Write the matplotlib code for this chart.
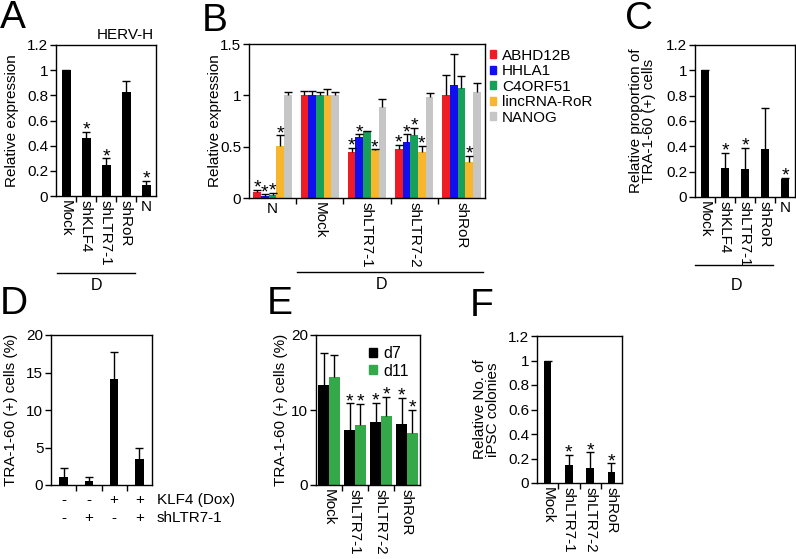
import numpy as np
import matplotlib.pyplot as plt
from matplotlib.patches import Patch
from matplotlib.ticker import FormatStrFormatter

plt.rcParams['font.family'] = ['Liberation Sans', 'DejaVu Sans']
plt.rcParams['font.size'] = 11
plt.rcParams['axes.linewidth'] = 1.0

# Panel A: HERV-H expression
a_labels = ['Mock', 'shKLF4', 'shLTR7-1', 'shRoR', 'N']
a_vals = [1.0, 0.46, 0.25, 0.83, 0.09]
a_errs = [0.0, 0.05, 0.05, 0.08, 0.03]
a_stars = [0, 1, 1, 0, 1]

# Panel B: gene expression per group
b_groups = ['N', 'Mock', 'shLTR7-1', 'shLTR7-2', 'shRoR']
b_genes = ['ABHD12B', 'HHLA1', 'C4ORF51', 'lincRNA-RoR', 'NANOG']
b_colors = ['#ee1c25', '#1010ee', '#16a05a', '#f7b62b', '#c6c6c6']
b_vals = [[0.06, 1.00, 0.45, 0.48, 1.00],
          [0.02, 1.00, 0.59, 0.55, 1.10],
          [0.03, 1.00, 0.65, 0.61, 1.07],
          [0.51, 1.00, 0.47, 0.45, 0.35],
          [1.00, 1.00, 0.89, 0.98, 1.03]]
b_errs = [[0.02, 0.04, 0.04, 0.04, 0.20],
          [0.015, 0.04, 0.03, 0.07, 0.30],
          [0.02, 0.03, 0.005, 0.07, 0.12],
          [0.10, 0.06, 0.005, 0.06, 0.06],
          [0.03, 0.03, 0.07, 0.04, 0.09]]
b_stars = [[1, 0, 1, 1, 0],
           [1, 0, 1, 1, 0],
           [1, 0, 0, 1, 0],
           [1, 0, 1, 1, 1],
           [0, 0, 0, 0, 0]]

# Panel C: relative proportion of TRA-1-60 (+) cells
c_labels = ['Mock', 'shKLF4', 'shLTR7-1', 'shRoR', 'N']
c_vals = [1.0, 0.23, 0.22, 0.38, 0.14]
c_errs = [0.0, 0.12, 0.17, 0.32, 0.01]
c_stars = [0, 1, 1, 0, 1]

# Panel D: TRA-1-60 (+) cells (%)
d_vals = [1.1, 0.6, 14.2, 3.5]
d_errs = [1.2, 0.5, 3.5, 1.4]
d_klf4 = ['-', '-', '+', '+']
d_shltr = ['-', '+', '-', '+']

# Panel E: d7 / d11
e_labels = ['Mock', 'shLTR7-1', 'shLTR7-2', 'shRoR']
e_d7 = [13.3, 7.3, 8.4, 8.2]
e_d7_err = [4.3, 3.6, 2.6, 3.4]
e_d11 = [14.4, 8.0, 9.2, 6.9]
e_d11_err = [2.9, 2.8, 2.6, 3.1]
e_stars = [0, 1, 1, 1]

# Panel F: iPSC colonies
f_labels = ['Mock', 'shLTR7-1', 'shLTR7-2', 'shRoR']
f_vals = [1.0, 0.15, 0.12, 0.09]
f_errs = [0.0, 0.08, 0.13, 0.07]
f_stars = [0, 1, 1, 1]


def draw_bars(ax, x, vals, errs, width, color, stars):
    b = ax.bar(x, vals, width, color=color, zorder=2,
               yerr=[np.zeros(len(vals)), errs],
               error_kw=dict(ecolor='black', elinewidth=1, capsize=3, capthick=1, zorder=3))
    b.errorbar[1][0].set_visible(False)
    for xi, v, e, s in zip(x, vals, errs, stars):
        if s:
            ax.annotate('*', (xi, v + e), xytext=(0, -2), textcoords='offset points',
                        ha='center', va='baseline', fontsize=14)


def style_axis(ax, n, labels, ylim, yticks):
    ax.set_xlim(-0.5, n - 0.5)
    ax.set_ylim(*ylim)
    ax.set_yticks(yticks)
    ax.yaxis.set_major_formatter(FormatStrFormatter('%g'))
    ax.tick_params(axis='y', direction='out', length=4, width=1, labelsize=11, pad=1.5)
    ax.set_xticks(np.arange(n))
    ax.set_xticks(np.arange(n - 1) + 0.5, minor=True)
    ax.tick_params(axis='x', which='major', length=0, pad=3)
    ax.tick_params(axis='x', which='minor', direction='out', length=4, width=1)
    if labels is not None:
        ax.set_xticklabels(labels, rotation=-90, va='top', ha='center', fontsize=11)
        for lbl in ax.get_xticklabels():
            if lbl.get_text() == 'N':
                lbl.set_rotation(0)
    else:
        ax.set_xticklabels([])


def group_line(ax, x0, x1, xt, y_line, y_text):
    tr = ax.get_xaxis_transform()
    ax.plot([x0, x1], [y_line, y_line], color='black', lw=1, transform=tr, clip_on=False)
    ax.text(xt, y_text, 'D', transform=tr, ha='center', va='center', fontsize=11.5)


W, H = 796, 559
fig = plt.figure(figsize=(W / 100, H / 100), dpi=100)


def add_axes(x0, y0, x1, y1):
    return fig.add_axes([x0 / W, 1 - y1 / H, (x1 - x0) / W, (y1 - y0) / H])


# ---- A ----
axA = add_axes(56, 45, 156, 196)
xa = np.arange(len(a_vals))
draw_bars(axA, xa, a_vals, a_errs, 0.45, 'black', a_stars)
style_axis(axA, len(a_vals), a_labels, (0, 1.2), np.arange(0, 1.21, 0.2))
axA.set_ylabel('Relative expression', fontsize=11)
axA.yaxis.set_label_coords(-0.37, 0.5)
axA.text(0.98, 1.02, 'HERV-H', transform=axA.transAxes, ha='right', va='bottom', fontsize=11)
group_line(axA, -0.45, 3.45, 1.55, -0.51, -0.59)

# ---- B ----
axB = add_axes(249, 44, 485, 198)
bw = 0.163
xg = np.arange(len(b_groups))
for i, gene in enumerate(b_genes):
    draw_bars(axB, xg + (i - 2) * bw, b_vals[i], b_errs[i], bw, b_colors[i], b_stars[i])
style_axis(axB, len(b_groups), b_groups, (0, 1.5), [0, 0.5, 1, 1.5])
axB.set_ylabel('Relative expression', fontsize=11)
axB.yaxis.set_label_coords(-0.115, 0.5)
group_line(axB, 0.52, 4.46, 2.3, -0.48, -0.56)
handles = [Patch(color=c, label=g) for c, g in zip(b_colors, b_genes)]
axB.legend(handles=handles, loc='upper left', bbox_to_anchor=(1.0, 1.0), frameon=False,
           handlelength=0.45, handleheight=0.45, handletextpad=0.35, labelspacing=0.1,
           borderaxespad=0.2, borderpad=0.1, fontsize=11)

# ---- C ----
axC = add_axes(695, 45, 795, 197)
xc = np.arange(len(c_vals))
draw_bars(axC, xc, c_vals, c_errs, 0.4, 'black', c_stars)
style_axis(axC, len(c_vals), c_labels, (0, 1.2), np.arange(0, 1.21, 0.2))
axC.set_ylabel('Relative proportion of\nTRA-1-60 (+) cells', fontsize=11, linespacing=0.9)
axC.yaxis.set_label_coords(-0.39, 0.5)
group_line(axC, -0.5, 3.4, 1.6, -0.45, -0.58)

# ---- D ----
axD = add_axes(51, 335, 152, 485)
xd = np.arange(len(d_vals))
draw_bars(axD, xd, d_vals, d_errs, 0.33, 'black', [0] * len(d_vals))
style_axis(axD, len(d_vals), None, (0, 20), [0, 5, 10, 15, 20])
axD.set_ylabel('TRA-1-60 (+) cells (%)', fontsize=11)
axD.yaxis.set_label_coords(-0.33, 0.5)
trD = axD.get_xaxis_transform()
for xi, s1, s2 in zip(xd, d_klf4, d_shltr):
    axD.text(xi, -0.1, s1, transform=trD, ha='center', va='center', fontsize=11)
    axD.text(xi, -0.22, s2, transform=trD, ha='center', va='center', fontsize=11)
axD.text(3.7, -0.1, 'KLF4 (Dox)', transform=trD, ha='left', va='center', fontsize=11)
axD.text(3.7, -0.22, 'shLTR7-1', transform=trD, ha='left', va='center', fontsize=11)

# ---- E ----
axE = add_axes(316, 335, 420, 485)
xe = np.arange(len(e_labels))
ew = 0.42
draw_bars(axE, xe - ew / 2, e_d7, e_d7_err, ew, 'black', e_stars)
draw_bars(axE, xe + ew / 2, e_d11, e_d11_err, ew, '#35a84a', e_stars)
style_axis(axE, len(e_labels), e_labels, (0, 20), [0, 10, 20])
axE.set_ylabel('TRA-1-60 (+) cells (%)', fontsize=11)
axE.yaxis.set_label_coords(-0.265, 0.5)
axE.legend(handles=[Patch(color='black', label='d7'), Patch(color='#35a84a', label='d11')],
           loc='upper right', bbox_to_anchor=(1.0, 1.0), frameon=False,
           handlelength=0.5, handleheight=0.5, handletextpad=0.4, labelspacing=0.15,
           borderaxespad=0.3, fontsize=11.5)

# ---- F ----
axF = add_axes(537, 336, 622, 483)
xf = np.arange(len(f_vals))
draw_bars(axF, xf, f_vals, f_errs, 0.35, 'black', f_stars)
style_axis(axF, len(f_vals), f_labels, (0, 1.2), np.arange(0, 1.21, 0.2))
axF.set_ylabel('Relative No. of\niPSC colonies', fontsize=11, linespacing=0.9)
axF.yaxis.set_label_coords(-0.44, 0.5)

# panel letters
for letter, x, y in [('A', 0, 0), ('B', 202, 3), ('C', 625, 1),
                     ('D', 0, 286), ('E', 267, 286), ('F', 470, 288)]:
    fig.text(x / W, 1 - y / H, letter, fontsize=28, ha='left', va='top')

fig.savefig('out.png', dpi=100)
